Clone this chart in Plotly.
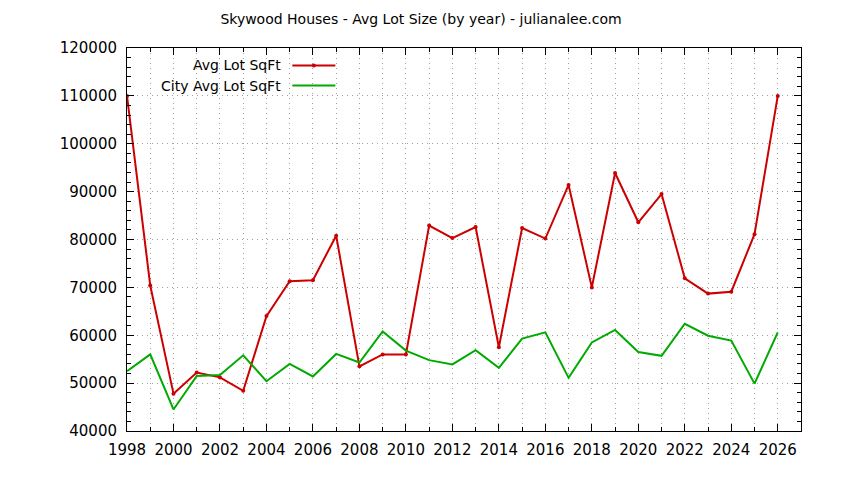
import plotly.graph_objects as go

years = list(range(1998, 2027))
avg_lot = [110000, 70400, 47800, 52200, 51200, 48400, 64000, 71300, 71500, 80800,
           53500, 56000, 56000, 82900, 80300, 82600, 57500, 82400, 80200, 91400,
           70000, 93900, 83600, 89500, 71900, 68700, 69100, 81100, 110000]
city_avg = [52500, 56000, 44500, 51500, 51700, 55800, 50400, 54000, 51400, 56100,
            54300, 60800, 56800, 54800, 53900, 56900, 53200, 59300, 60600, 51100,
            58500, 61100, 56500, 55700, 62400, 59900, 58900, 49900, 60600]
series_names = ["Avg Lot SqFt", "City Avg Lot SqFt"]
title_text = "Skywood Houses - Avg Lot Size (by year) - julianalee.com"

RED = "#cc0000"
GREEN = "#00aa00"
OFF = 8  # page body offset
W, H = 844 - OFF, 480 - OFF
L, R, T, B = 126.5 - OFF, 43, 48 - OFF, 49
FONT = "DejaVu Sans"

fig = go.Figure()
fig.add_trace(go.Scatter(x=years, y=avg_lot, mode="lines+markers", name=series_names[0],
                         line=dict(color=RED, width=2), marker=dict(color=RED, size=4),
                         showlegend=False))
fig.add_trace(go.Scatter(x=years, y=city_avg, mode="lines", name=series_names[1],
                         line=dict(color=GREEN, width=2), showlegend=False))

pw = W - L - R
ph = H - T - B
def px_x(p):  # p: screen pixel
    return (p - OFF - L) / pw
def px_y(p):
    return 1 - (p - OFF - T) / ph

# manual gnuplot-style legend (text left of sample)
for i, (nm, col) in enumerate(zip(series_names, [RED, GREEN])):
    yy = 65.5 + 20 * i
    fig.add_annotation(x=px_x(283), y=px_y(yy), xref="paper", yref="paper",
                       text=nm, showarrow=False, xanchor="right", yanchor="middle",
                       font=dict(family=FONT, size=14, color="#000000"))
    fig.add_shape(type="line", xref="paper", yref="paper",
                  x0=px_x(292), x1=px_x(335), y0=px_y(yy), y1=px_y(yy),
                  line=dict(color=col, width=2))
    if i == 0:
        fig.add_shape(type="circle", xref="paper", yref="paper",
                      x0=px_x(311.5), x1=px_x(315.5), y0=px_y(yy + 2), y1=px_y(yy - 2),
                      fillcolor=col, line=dict(color=col, width=0))

axis_common = dict(showline=True, linecolor="#000000", linewidth=1, mirror="allticks",
                   ticks="inside", tickcolor="#000000", ticklen=7, tickwidth=1,
                   zeroline=False, gridcolor="#a0a0a0", gridwidth=1, griddash="1px,4px",
                   automargin=False,
                   tickfont=dict(family=FONT, size=15, color="#000000"))

fig.update_xaxes(range=[1998, 2027], tick0=1998, dtick=2, showgrid=True,
                 minor=dict(dtick=1, tick0=1998, ticks="inside", ticklen=4, tickcolor="#000000",
                            showgrid=True, gridcolor="#a0a0a0", griddash="1px,4px"),
                 ticklabelstandoff=5, **axis_common)
fig.update_yaxes(range=[40000, 120000], tick0=40000, dtick=10000, showgrid=True,
                 tickformat="d",
                 minor=dict(dtick=2000, tick0=40000, ticks="inside", ticklen=4, tickcolor="#000000",
                            showgrid=False),
                 ticklabelstandoff=6, **axis_common)

fig.update_layout(width=W, height=H, margin=dict(l=L, r=R, t=T, b=B, pad=0, autoexpand=False),
                  paper_bgcolor="#ffffff", plot_bgcolor="#ffffff",
                  title=dict(text=title_text, x=(421 - OFF) / W, xanchor="center", xref="container",
                             y=1 - (19 - OFF) / H, yref="container", yanchor="middle", automargin=False,
                             font=dict(family=FONT, size=14, color="#000000")),
                  font=dict(family=FONT))

fig.write_html("out.html")
